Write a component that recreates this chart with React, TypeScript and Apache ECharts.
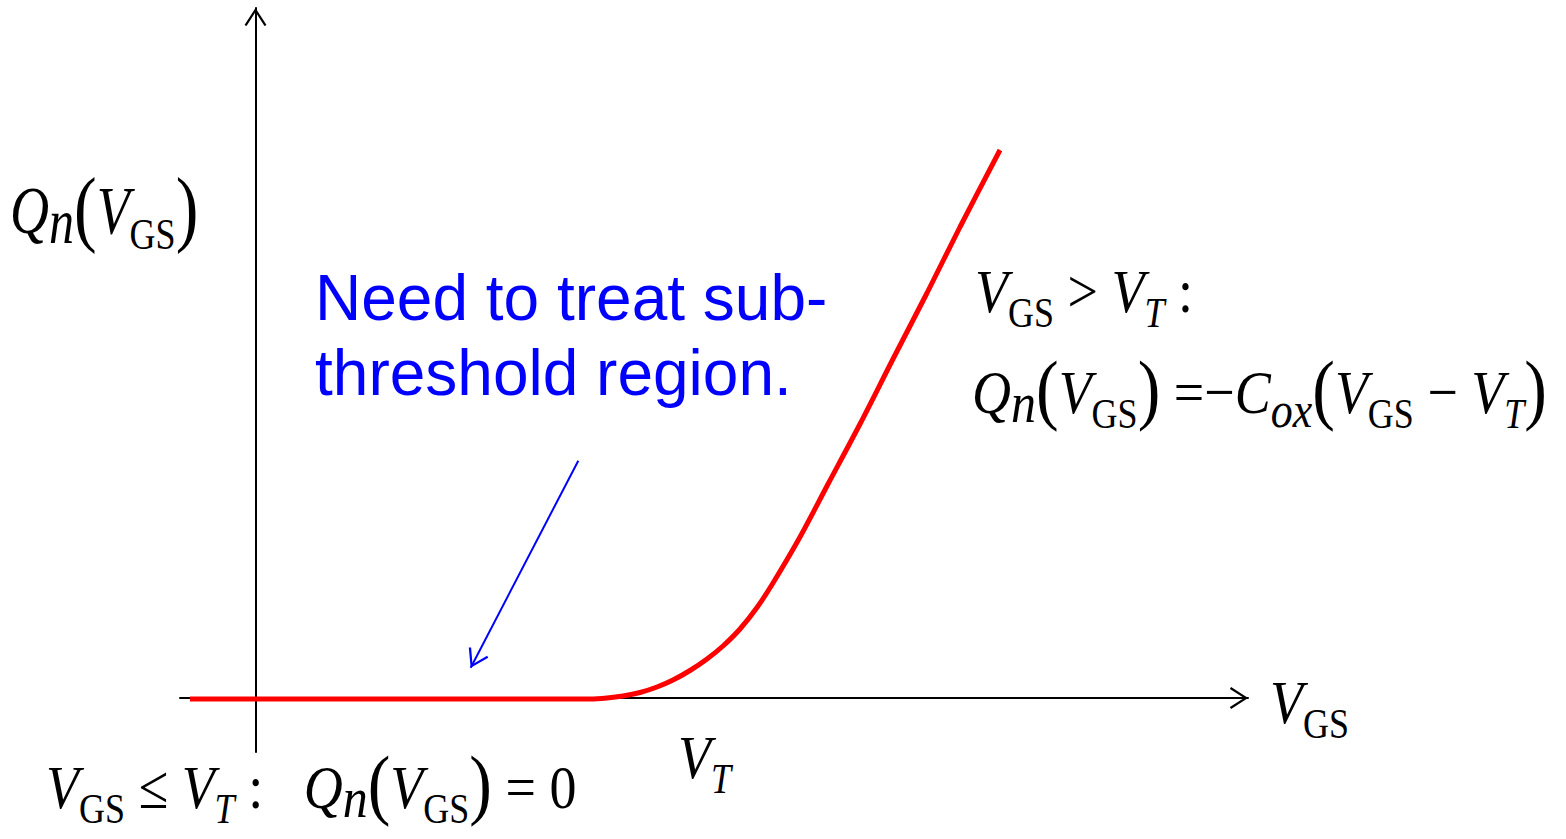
import React, { useEffect, useRef } from "react";
import * as echarts from "echarts";

// Q_n(V_GS) curve (V_GS in axis units, Q_n in axis units)
const vgs = [-0.655, 2.845, 3.345, 3.515, 3.675, 3.845, 4.015, 4.175, 4.345, 4.515, 4.675, 4.845, 5.015, 5.175, 5.445, 5.715, 6.045, 6.375, 6.715, 7.045, 7.445];
const qn = [-0.01, -0.01, -0.01, 0.0, 0.02, 0.055, 0.11, 0.18, 0.275, 0.39, 0.52, 0.69, 0.905, 1.15, 1.61, 2.12, 2.74, 3.39, 4.05, 4.71, 5.48];

// annotation arrow (data coordinates)
const arrowFrom = [3.228, 2.373];
const arrowTo = [2.152, 0.303];

// axis ranges
const xRange = [-0.755, 9.925];
const yRange = [-0.54, 6.9];

const annotation = "Need to treat sub-\nthreshold region.";

const ARROW_AXIS = "path://M10,-18 L10.01,-18 Z M10,0 L21,17 L19,18.2 L10,4 L1,18.2 L-1,17 Z";

const SERIF = "'Liberation Serif', 'Times New Roman', serif";
const K = 0.3375;
const D = 30;
const TOK: Record<string, { fs: number; italic: boolean; bold?: boolean; shift: number }> = {
  V: { fs: 54, italic: true, shift: 0 },
  op: { fs: 54, italic: false, shift: 0 },
  s: { fs: 36, italic: false, shift: 13 },
  si: { fs: 36, italic: true, shift: 13 },
  ox: { fs: 44, italic: true, shift: 12 },
  nb: { fs: 50, italic: true, shift: 8 },
  p: { fs: 68, italic: false, shift: 2 },
};
const lh = (k: string) => 2 * (D - TOK[k].shift + K * TOK[k].fs);
const rich: Record<string, any> = {};
Object.keys(TOK).forEach((k) => {
  const t = TOK[k];
  rich[k] = {
    fontFamily: SERIF,
    fontSize: t.fs,
    fontStyle: t.italic ? "italic" : "normal",
    fontWeight: t.bold ? "bold" : "normal",
    height: lh(k),
    lineHeight: lh(k),
    verticalAlign: "bottom",
    fill: "#000",
  };
});

function math(x: number, baseline: number, parts: [string, string][], sy = 1.15, sx = 1) {
  const maxL = Math.max(...parts.map((p) => lh(p[0])));
  return {
    type: "text",
    x,
    y: baseline,
    scaleX: sx,
    scaleY: sy,
    silent: true,
    style: {
      x: 0,
      y: D - maxL,
      text: parts.map(([k, t]) => `{${k}|${t}}`).join(""),
      rich,
      align: "left",
      verticalAlign: "top",
      fill: "#000",
    },
  };
}

export default function App() {
  const ref = useRef<HTMLDivElement>(null);
  useEffect(() => {
    if (!ref.current) return;
    const chart = echarts.init(ref.current, undefined, { renderer: "svg" });
    const axisCommon = {
      type: "value" as const,
      axisTick: { show: false },
      axisLabel: { show: false },
      splitLine: { show: false },
      axisLine: {
        onZero: true,
        symbol: ["none", ARROW_AXIS],
        symbolSize: [22, 36.4],
        lineStyle: { color: "#000", width: 2 },
      },
    };
    chart.setOption({
      animation: false,
      backgroundColor: "#fff",
      grid: { left: 180, right: 318, top: 8, bottom: 87, containLabel: false },
      xAxis: { ...axisCommon, min: xRange[0], max: xRange[1] },
      yAxis: { ...axisCommon, min: yRange[0], max: yRange[1] },
      series: [
        {
          type: "line",
          data: vgs.map((v, i) => [v, qn[i]]),
          showSymbol: false,
          smooth: 0.3,
          lineStyle: { color: "#ff0000", width: 5 },
          itemStyle: { color: "#ff0000" },
          markLine: {
            silent: true,
            symbol: ["none", ARROW_AXIS],
            symbolSize: [22, 36.4],
            label: { show: false },
            lineStyle: { color: "#0000ff", width: 2, type: "solid" },
            data: [[{ coord: arrowFrom }, { coord: arrowTo }]],
          },
        },
      ],
      graphic: [
        {
          type: "text",
          x: 315,
          y: 260,
          silent: true,
          style: {
            text: annotation,
            fontFamily: "'Liberation Sans', Arial, sans-serif",
            fontSize: 64,
            lineHeight: 75,
            fill: "#0000ff",
            align: "left",
            verticalAlign: "top",
          },
        },
        math(10, 233, [["V", "Q"], ["nb", "n"], ["p", "("], ["V", "V"], ["s", "GS"], ["p", ")"]], 1.25),
        math(975, 312, [["V", "V"], ["s", "GS"], ["op", " > "], ["V", "V"], ["si", "T"], ["op", " :"]]),
        math(972, 413, [
          ["V", "Q"], ["nb", "n"], ["p", "("], ["V", "V"], ["s", "GS"], ["p", ")"],
          ["op", " =−"], ["V", "C"], ["ox", "ox"], ["p", "("], ["V", "V"], ["s", "GS"],
          ["op", " − "], ["V", "V"], ["si", "T"], ["p", ")"],
        ]),
        math(46, 808, [
          ["V", "V"], ["s", "GS"], ["op", " ≤ "], ["V", "V"], ["si", "T"], ["op", " :   "],
          ["V", "Q"], ["nb", "n"], ["p", "("], ["V", "V"], ["s", "GS"], ["p", ")"], ["op", " = 0"],
        ]),
        math(1270, 723, [["V", "V"], ["s", "GS"]]),
        math(678, 778, [["V", "V"], ["si", "T"]]),
      ],
    });
    return () => chart.dispose();
  }, []);
  return (
    <div
      ref={ref}
      style={{ position: "absolute", left: 0, top: 0, width: 1566, height: 839 }}
    />
  );
}
